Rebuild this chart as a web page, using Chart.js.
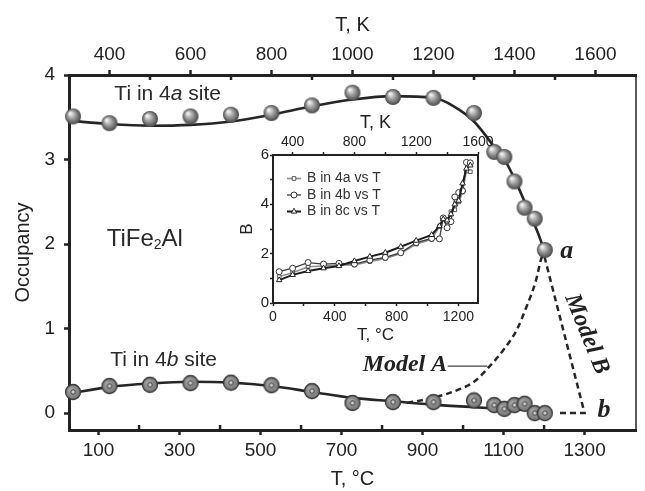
<!DOCTYPE html>
<html>
<head>
<meta charset="utf-8">
<title>TiFe2Al occupancy</title>
<script src="https://cdn.jsdelivr.net/npm/chart.js@4.4.1/dist/chart.umd.min.js"></script>
<style>
  html, body { margin: 0; padding: 0; background: #fff; }
  #wrap { position: relative; width: 645px; height: 491px; }
  #mainChart { position: absolute; left: 0; top: 0; }
  #insetChart { position: absolute; left: 230px; top: 100px; }
</style>
</head>
<body>
<div id="wrap">
  <canvas id="mainChart" width="645" height="491"></canvas>
  <canvas id="insetChart" width="285" height="250"></canvas>
</div>
<script>
// main panel: measured points (T in °C)
const TEMP_4A = [37, 127, 227, 327, 427, 527, 627, 727, 827, 927, 1027, 1077, 1102, 1127, 1152, 1177, 1202];
const OCC_4A  = [3.51, 3.43, 3.48, 3.51, 3.53, 3.55, 3.64, 3.79, 3.74, 3.73, 3.55, 3.09, 3.03, 2.74, 2.43, 2.30, 1.93];
const TEMP_4B = [37, 127, 227, 327, 427, 527, 627, 727, 827, 927, 1027, 1077, 1102, 1127, 1152, 1177, 1202];
const OCC_4B  = [0.25, 0.32, 0.335, 0.355, 0.36, 0.33, 0.26, 0.12, 0.13, 0.13, 0.15, 0.095, 0.05, 0.095, 0.11, 0.0, 0.0];

// fitted curves
const FIT_4A_T = [27, 127, 227, 327, 427, 527, 627, 727, 827, 927, 977, 1027, 1077, 1107, 1131, 1161, 1185, 1200];
const FIT_4A_Y = [3.46, 3.42, 3.40, 3.41, 3.45, 3.53, 3.63, 3.71, 3.75, 3.73, 3.63, 3.45, 3.15, 2.96, 2.73, 2.40, 2.13, 1.93];
const FIT_4B_T = [27, 127, 227, 327, 427, 527, 627, 727, 827, 927, 1027, 1100, 1200];
const FIT_4B_Y = [0.23, 0.31, 0.35, 0.37, 0.36, 0.32, 0.25, 0.18, 0.14, 0.10, 0.07, 0.05, 0.03];

// model A / model B dashed paths
const MODEL_A_T = [862, 925, 990, 1027, 1063, 1100, 1132, 1156, 1180, 1192, 1200];
const MODEL_A_Y = [0.12, 0.18, 0.28, 0.37, 0.54, 0.75, 0.98, 1.25, 1.57, 1.81, 1.92];
const MODEL_B_T = [1201, 1300, 1232];
const MODEL_B_Y = [1.85, 0.0, 0.0];
const LEADER_T = [962, 1060];
const LEADER_Y = [0.556, 0.556];

// axis ticks
const TICKS_C = [100, 300, 500, 700, 900, 1100, 1300];
const MINOR_C = [200, 400, 600, 800, 1000, 1200];
const TICKS_K = [400, 600, 800, 1000, 1200, 1400, 1600];
const MINOR_K = [500, 700, 900, 1100, 1300, 1500];
const TICKS_OCC = [0, 1, 2, 3, 4];

// inset: B factors vs T (°C)
const INSET_T = [40, 127, 227, 327, 427, 527, 627, 727, 827, 927, 1027, 1077, 1102, 1127, 1152, 1177, 1202, 1227, 1252, 1277];
const B_4A = [1.07, 1.23, 1.47, 1.50, 1.54, 1.54, 1.68, 1.81, 2.01, 2.39, 2.58, 3.10, 3.40, 3.30, 3.70, 3.78, 4.10, 4.50, 5.35, 5.32];
const B_4B = [1.27, 1.41, 1.64, 1.58, 1.61, 1.58, 1.74, 1.85, 2.04, 2.45, 2.62, 2.60, 3.45, 3.05, 3.30, 4.30, 4.48, 4.55, 5.70, 5.68];
const B_8C = [0.93, 1.14, 1.30, 1.41, 1.50, 1.70, 1.88, 2.04, 2.28, 2.53, 2.76, 3.12, 3.40, 3.35, 3.60, 4.00, 4.15, 4.85, 5.45, 5.58];
const INSET_LABELS = ['B in 4a vs T', 'B in 4b vs T', 'B in 8c vs T'];

const SANS = '"Liberation Sans", Arial, sans-serif';
const SERIF = '"Liberation Serif", "Times New Roman", serif';
const INK = '#222';

Chart.defaults.font.family = SANS;
Chart.defaults.color = INK;

function pts(xs, ys) {
  return xs.map((x, i) => ({ x: x, y: ys[i] }));
}

// shaded grey ball for Ti in 4a
function makeSphere(r) {
  const c = document.createElement('canvas');
  c.width = c.height = 2 * r + 2;
  const g = c.getContext('2d');
  const m = r + 1;
  const grd = g.createRadialGradient(m - r * 0.35, m - r * 0.4, r * 0.1, m, m, r);
  grd.addColorStop(0, '#f0f0f0');
  grd.addColorStop(0.45, '#9e9e9e');
  grd.addColorStop(1, '#484848');
  g.fillStyle = grd;
  g.beginPath();
  g.arc(m, m, r, 0, Math.PI * 2);
  g.fill();
  return c;
}

// grey disc with a small ring for Ti in 4b
function makeRing(r) {
  const c = document.createElement('canvas');
  c.width = c.height = 2 * r + 3;
  const g = c.getContext('2d');
  const m = r + 1.5;
  const grd = g.createRadialGradient(m - r * 0.3, m - r * 0.3, r * 0.1, m, m, r);
  grd.addColorStop(0, '#a8a8a8');
  grd.addColorStop(1, '#747474');
  g.fillStyle = grd;
  g.strokeStyle = '#3a3a3a';
  g.lineWidth = 1.3;
  g.beginPath();
  g.arc(m, m, r, 0, Math.PI * 2);
  g.fill();
  g.stroke();
  g.fillStyle = '#cfcfcf';
  g.lineWidth = 1;
  g.beginPath();
  g.arc(m, m, r * 0.3, 0, Math.PI * 2);
  g.fill();
  g.stroke();
  return c;
}

function drawParts(ctx, x, y, parts) {
  let cx = x;
  parts.forEach(p => {
    ctx.font = p.font;
    ctx.fillText(p.t, cx, y + (p.dy || 0));
    cx += ctx.measureText(p.t).width;
  });
}

// inward minor ticks, right frame line and the text labels
const mainDecor = {
  id: 'mainDecor',
  afterDraw(chart) {
    const { ctx, chartArea: a, scales } = chart;
    const X = v => scales.x.getPixelForValue(v);
    const Y = v => scales.y.getPixelForValue(v);
    ctx.save();
    ctx.strokeStyle = INK;
    ctx.lineWidth = 2.5;
    ctx.beginPath();
    MINOR_C.forEach(v => { ctx.moveTo(X(v), a.bottom); ctx.lineTo(X(v), a.bottom - 5); });
    MINOR_K.forEach(v => {
      const x = scales.xTop.getPixelForValue(v);
      ctx.moveTo(x, a.top); ctx.lineTo(x, a.top + 5);
    });
    ctx.stroke();
    ctx.lineWidth = 1.5;
    ctx.beginPath();
    ctx.moveTo(a.right, a.top - 1);
    ctx.lineTo(a.right, a.bottom + 1);
    ctx.stroke();

    ctx.fillStyle = '#2a2a2a';
    ctx.textBaseline = 'middle';
    ctx.textAlign = 'left';
    const reg = '21px ' + SANS;
    const ita = 'italic 21px ' + SANS;
    drawParts(ctx, X(139), Y(3.775), [{ t: 'Ti in 4', font: reg }, { t: 'a', font: ita }, { t: ' site', font: reg }]);
    drawParts(ctx, X(129), Y(0.627), [{ t: 'Ti in 4', font: reg }, { t: 'b', font: ita }, { t: ' site', font: reg }]);
    const big = '24px ' + SANS;
    drawParts(ctx, X(120), Y(2.06), [{ t: 'TiFe', font: big }, { t: '2', font: '14px ' + SANS, dy: 6 }, { t: 'Al', font: big }]);

    ctx.fillStyle = INK;
    ctx.font = 'bold italic 24px ' + SERIF;
    ctx.fillText('Model A', X(752), Y(0.568));
    ctx.textBaseline = 'alphabetic';
    ctx.font = 'bold italic 26px ' + SERIF;
    ctx.fillText('a', X(1240), Y(1.834));
    ctx.fillText('b', X(1332), Y(-0.047));

    ctx.translate(X(1305), Y(0.935));
    ctx.rotate(68 * Math.PI / 180);
    ctx.textAlign = 'center';
    ctx.textBaseline = 'middle';
    ctx.font = 'bold italic 24px ' + SERIF;
    ctx.fillText('Model B', 0, 0);
    ctx.restore();
  }
};

const sphere = makeSphere(8);
const ring = makeRing(7.5);
const dash = [6, 4];

new Chart(document.getElementById('mainChart'), {
  type: 'scatter',
  data: {
    datasets: [
      { label: 'Ti in 4a', data: pts(TEMP_4A, OCC_4A), pointStyle: sphere, pointRadius: 8, clip: false, order: 0 },
      { label: 'Ti in 4b', data: pts(TEMP_4B, OCC_4B), pointStyle: ring, pointRadius: 8, clip: false, order: 0 },
      { label: 'fit 4a', data: pts(FIT_4A_T, FIT_4A_Y), showLine: true, pointRadius: 0, borderColor: '#262626', borderWidth: 2.6, cubicInterpolationMode: 'monotone', order: 2 },
      { label: 'fit 4b', data: pts(FIT_4B_T, FIT_4B_Y), showLine: true, pointRadius: 0, borderColor: '#262626', borderWidth: 2.6, cubicInterpolationMode: 'monotone', order: 2 },
      { label: 'Model A', data: pts(MODEL_A_T, MODEL_A_Y), showLine: true, pointRadius: 0, borderColor: '#262626', borderWidth: 2.5, borderDash: dash, cubicInterpolationMode: 'monotone', order: 3 },
      { label: 'Model B', data: pts(MODEL_B_T, MODEL_B_Y), showLine: true, pointRadius: 0, borderColor: '#262626', borderWidth: 2.5, borderDash: dash, order: 3 },
      { label: 'leader', data: pts(LEADER_T, LEADER_Y), showLine: true, pointRadius: 0, borderColor: '#444', borderWidth: 1.2, order: 3 }
    ]
  },
  options: {
    responsive: false,
    animation: false,
    devicePixelRatio: 1,
    layout: { padding: { right: 2 } },
    plugins: { legend: { display: false }, tooltip: { enabled: false } },
    scales: {
      x: {
        type: 'linear', position: 'bottom', min: 27, max: 1427,
        afterBuildTicks: s => { s.ticks = TICKS_C.map(v => ({ value: v })); },
        afterFit: s => { s.height = 61; },
        border: { color: INK, width: 3 },
        grid: { drawOnChartArea: false, tickLength: 5, tickWidth: 2.5, tickColor: INK },
        ticks: { font: { size: 19 }, padding: 4, autoSkip: false, maxRotation: 0, callback: v => String(v) },
        title: { display: true, text: 'T, °C', font: { size: 20 }, padding: { top: 0, bottom: 0 } }
      },
      xTop: {
        type: 'linear', position: 'top', min: 300, max: 1700,
        afterBuildTicks: s => { s.ticks = TICKS_K.map(v => ({ value: v })); },
        afterFit: s => { s.height = 75; },
        border: { color: INK, width: 3 },
        grid: { drawOnChartArea: false, tickLength: 5, tickWidth: 2.5, tickColor: INK },
        ticks: { font: { size: 19 }, padding: 4, autoSkip: false, maxRotation: 0, callback: v => String(v) },
        title: { display: true, text: 'T, K', font: { size: 20 }, padding: { top: 13, bottom: 0 } }
      },
      y: {
        type: 'linear', min: -0.2, max: 4,
        afterBuildTicks: s => { s.ticks = TICKS_OCC.map(v => ({ value: v })); },
        afterFit: s => { s.width = 69; },
        border: { color: INK, width: 3 },
        grid: { drawOnChartArea: false, tickLength: 5, tickWidth: 2.5, tickColor: INK },
        ticks: { font: { size: 19 }, padding: 9, callback: v => String(v) },
        title: { display: true, text: 'Occupancy', font: { size: 20 }, padding: { top: 11, bottom: 0 } }
      }
    }
  },
  plugins: [mainDecor]
});

// inset legend (line + marker + text) and right frame line
const insetDecor = {
  id: 'insetDecor',
  afterDraw(chart) {
    const { ctx, chartArea: a } = chart;
    ctx.save();
    ctx.strokeStyle = INK;
    ctx.lineWidth = 2;
    ctx.beginPath();
    ctx.moveTo(a.right, a.top - 1);
    ctx.lineTo(a.right, a.bottom + 1);
    ctx.stroke();

    const rowY = [78.5, 95, 111.5];
    chart.data.datasets.forEach((ds, i) => {
      const y = rowY[i];
      ctx.strokeStyle = ds.borderColor;
      ctx.lineWidth = ds.borderWidth;
      ctx.beginPath();
      ctx.moveTo(57, y);
      ctx.lineTo(71, y);
      ctx.stroke();
      ctx.fillStyle = ds.pointBackgroundColor;
      ctx.strokeStyle = ds.pointBorderColor;
      ctx.lineWidth = 1;
      Chart.helpers.drawPoint(ctx, { pointStyle: ds.pointStyle, radius: ds.pointRadius, borderWidth: 1, rotation: 0 }, 64, y);
      ctx.fillStyle = '#333';
      ctx.font = '14px ' + SANS;
      ctx.textBaseline = 'middle';
      ctx.fillText(INSET_LABELS[i], 77, y);
    });
    ctx.restore();
  }
};

const insetTick = { drawOnChartArea: false, tickLength: 3, tickWidth: 1.5, tickColor: INK };

new Chart(document.getElementById('insetChart'), {
  type: 'scatter',
  data: {
    datasets: [
      { label: INSET_LABELS[0], data: pts(INSET_T, B_4A), showLine: true, borderColor: '#8c8c8c', borderWidth: 1.6,
        pointStyle: 'rect', pointRadius: 2.6, pointBorderWidth: 1, pointBorderColor: '#555', pointBackgroundColor: '#fff', order: 2 },
      { label: INSET_LABELS[1], data: pts(INSET_T, B_4B), showLine: true, borderColor: '#3c3c3c', borderWidth: 1.3,
        pointStyle: 'circle', pointRadius: 3, pointBorderWidth: 1, pointBorderColor: '#333', pointBackgroundColor: '#fff', order: 1 },
      { label: INSET_LABELS[2], data: pts(INSET_T, B_8C), showLine: true, borderColor: '#1c1c1c', borderWidth: 2,
        pointStyle: 'triangle', pointRadius: 3.2, pointBorderWidth: 1, pointBorderColor: '#222', pointBackgroundColor: '#fff', order: 0 }
    ]
  },
  options: {
    responsive: false,
    animation: false,
    devicePixelRatio: 1,
    layout: { padding: { right: 37 } },
    plugins: { legend: { display: false }, tooltip: { enabled: false } },
    scales: {
      x: {
        type: 'linear', position: 'bottom', min: 0, max: 1327,
        afterFit: s => { s.height = 47; },
        border: { color: INK, width: 2 },
        grid: insetTick,
        ticks: { stepSize: 200, includeBounds: false, font: { size: 14 }, padding: 3, autoSkip: false, maxRotation: 0,
          callback: v => (v % 400 === 0 ? String(v) : '') },
        title: { display: true, text: 'T, °C', font: { size: 17 }, padding: { top: 0, bottom: 4 } }
      },
      xTop: {
        type: 'linear', position: 'top', min: 273, max: 1600,
        afterFit: s => { s.height = 55; },
        border: { color: INK, width: 2 },
        grid: insetTick,
        ticks: { stepSize: 200, includeBounds: false, font: { size: 14 }, padding: 1, autoSkip: false, maxRotation: 0,
          callback: v => (v % 400 === 0 ? String(v) : '') },
        title: { display: true, text: 'T, K', font: { size: 18 }, padding: { top: 12, bottom: 0 } }
      },
      y: {
        type: 'linear', min: 0, max: 6,
        afterFit: s => { s.width = 43; },
        border: { color: INK, width: 2 },
        grid: insetTick,
        ticks: { stepSize: 1, font: { size: 15 }, padding: 1, callback: v => (v % 2 === 0 ? String(v) : '') },
        title: { display: true, text: 'B', font: { size: 17 }, padding: { top: 7, bottom: 0 } }
      }
    }
  },
  plugins: [insetDecor]
});
</script>
</body>
</html>
